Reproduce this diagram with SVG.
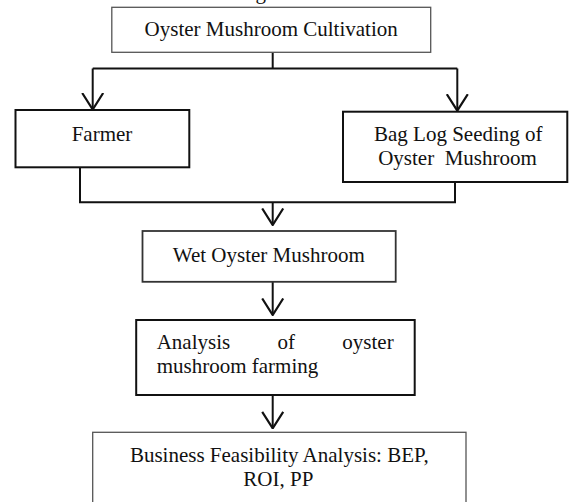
<svg xmlns="http://www.w3.org/2000/svg" width="569" height="502" viewBox="0 0 569 502">
<defs>
<style>
text{font-family:"Liberation Serif","Times New Roman",serif;font-size:21px;fill:#111}
.c{text-anchor:middle}
.thin{fill:#fff;stroke:#555;stroke-width:1.3}
.bold{fill:#fff;stroke:#111;stroke-width:2}
.mid{fill:#fff;stroke:#333;stroke-width:1.8}
.ln{fill:none;stroke:#111;stroke-width:2}
</style>
<marker id="arr" viewBox="0 0 18 24" refX="17" refY="12" markerWidth="18" markerHeight="24" markerUnits="userSpaceOnUse" orient="auto">
<path d="M0.5,1.5 L17,12 L0.5,22.5" fill="none" stroke="#111" stroke-width="2.2"/>
</marker>
</defs>
<rect width="569" height="502" fill="#fff"/>
<text x="255.5" y="-0.6">g</text>
<g id="connectors">
<path class="ln" d="M272.7,52.3 V68.5"/>
<path class="ln" d="M92.7,68.5 H457.3"/>
<path class="ln" d="M92.7,68.5 V109.5" marker-end="url(#arr)"/>
<path class="ln" d="M457.3,68.5 V110.7" marker-end="url(#arr)"/>
<path class="ln" d="M80,167.5 V202.3 H455 V182.3"/>
<path class="ln" d="M272.7,202.3 V225" marker-end="url(#arr)"/>
<path class="ln" d="M272.7,282 V315" marker-end="url(#arr)"/>
<path class="ln" d="M272.7,395 V428.3" marker-end="url(#arr)"/>
</g>
<g id="n1">
<rect class="thin" x="111.8" y="7.3" width="318.9" height="45"/>
<text class="c" x="271.2" y="36">Oyster Mushroom Cultivation</text>
</g>
<g id="n2">
<rect class="bold" x="15.5" y="110" width="173.8" height="57.3"/>
<text class="c" x="102" y="140.7">Farmer</text>
</g>
<g id="n3">
<rect class="bold" x="343" y="111.7" width="224.3" height="70.3"/>
<text class="c" x="458.3" y="140.7">Bag Log Seeding of</text>
<text class="c" x="457.5" y="165" xml:space="preserve">Oyster  Mushroom</text>
</g>
<g id="n4">
<rect class="mid" x="142.5" y="231" width="253.2" height="50.8"/>
<text class="c" x="268.8" y="261.7">Wet Oyster Mushroom</text>
</g>
<g id="n5">
<rect class="bold" x="136.2" y="320" width="278.5" height="75"/>
<text x="156.7" y="348.5">Analysis</text>
<text x="277.6" y="348.5">of</text>
<text x="393.7" y="348.5" style="text-anchor:end">oyster</text>
<text x="156.7" y="373.3">mushroom farming</text>
</g>
<g id="n6">
<rect class="thin" x="92.7" y="432.3" width="373.3" height="90"/>
<text class="c" x="279.3" y="461.7">Business Feasibility Analysis: BEP,</text>
<text class="c" x="278.3" y="485.7">ROI, PP</text>
</g>
</svg>
